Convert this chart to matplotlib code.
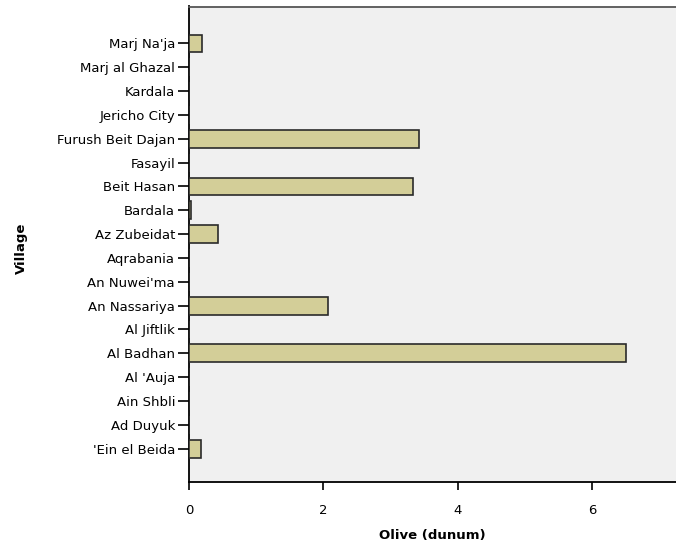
import matplotlib
matplotlib.use("Agg")
import matplotlib.pyplot as plt

villages = [
    "'Ein el Beida", "Ad Duyuk", "Ain Shbli", "Al 'Auja", "Al Badhan",
    "Al Jiftlik", "An Nassariya", "An Nuwei'ma", "Aqrabania", "Az Zubeidat",
    "Bardala", "Beit Hasan", "Fasayil", "Furush Beit Dajan", "Jericho City",
    "Kardala", "Marj al Ghazal", "Marj Na'ja",
]
olive_dunum = [
    0.18, 0.0, 0.0, 0.0, 6.50,
    0.0, 2.07, 0.0, 0.0, 0.43,
    0.03, 3.33, 0.0, 3.43, 0.0,
    0.0, 0.0, 0.20,
]
x_ticks = [0, 2, 4, 6]

plt.rcParams['font.family'] = ['DejaVu Sans']

fig = plt.figure(figsize=(6.76, 5.48), dpi=100)
ax = fig.add_axes([189 / 676, 1 - 482 / 548, 1 - 189 / 676, (482 - 6.5) / 548])
ax.set_facecolor('#F0F0F0')

pos = list(range(len(villages)))
ax.barh(pos, olive_dunum, height=0.75, color='#D3CE98', edgecolor='#2a2a2a',
        linewidth=1.2, zorder=3)

ax.set_xlim(0, 7.25)
ax.set_ylim(-1.4, len(villages) - 1 + 1.55)
ax.set_yticks(pos)
ax.set_yticklabels(villages, fontsize=9.5)
ax.set_xticks(x_ticks)
ax.set_xticklabels([str(t) for t in x_ticks], fontsize=9.5)

ax.tick_params(axis='y', length=8, width=1.2, color='black', pad=2)
ax.tick_params(axis='x', length=6, width=1.2, color='black', pad=10)

for side in ('left', 'bottom'):
    ax.spines[side].set_color('black')
    ax.spines[side].set_linewidth(1.3)
ax.spines['top'].set_color('#555555')
ax.spines['top'].set_linewidth(1.3)
ax.spines['right'].set_visible(False)

ax.set_xlabel('Olive (dunum)', fontsize=9.5, fontweight='bold')
ax.set_ylabel('Village', fontsize=9.5, fontweight='bold')
ax.xaxis.set_label_coords((432 - 189) / (676 - 189), -(529 - 482) / (482 - 6.5))
ax.yaxis.set_label_coords(-(189 - 28) / (676 - 189), (482 - 248) / (482 - 6.5))

fig.savefig('out.png', dpi=100)
